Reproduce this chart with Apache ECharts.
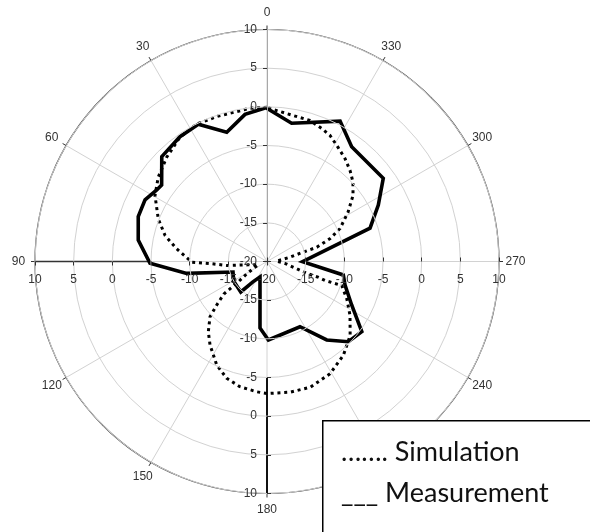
<!DOCTYPE html>
<html>
<head>
<meta charset="utf-8">
<script src="https://cdn.jsdelivr.net/npm/echarts@6/dist/echarts.min.js"></script>
<style>
  html, body { margin: 0; padding: 0; background: #fff; }
  #chart { width: 590px; height: 532px; }
</style>
</head>
<body>
<div id="chart"></div>
<script>
// Radiation pattern: relative gain (dB) against azimuth angle (degrees, counter-clockwise from top)

// Simulated pattern
const simAngles = [0, 6.3, 18.8, 27, 35, 43.9, 52.2, 59.5, 68.6, 75.7, 82, 90.5, 92, 95.7, 100, 110,
  121, 125, 127, 130.9, 134.1, 140.1, 145.7, 154.1, 161, 167.8, 175.5, 180, 190, 198.9, 209.3,
  219.1, 228.3, 237, 244.9, 252.2, 251.9, 252.9, 253.3, 256.2, 264.3, 272, 275.2, 280.6, 284.5,
  286, 290, 294.3, 301.3, 307.5, 312.7, 317.6, 322.9, 328.2, 333.4, 337.6, 343, 349.9, 357.7];
const simValues = [-0.05, -0.06, -0.17, -0.05, -0.38, -1.29, -2.2, -3.19, -4.9, -6.4, -8.2, -10.3, -12.6, -14.8, -17.5, -18.8,
  -17.0, -15.6, -13.0, -11.4, -9.74, -8.17, -6.93, -5.12, -4.02, -3.44, -3.1, -2.93, -2.84, -2.8, -3.35,
  -4.35, -5.6, -7.2, -8.6, -9.85, -12.1, -13.1, -14.5, -16.0, -17.7, -18.8, -18.6, -17.0, -15.2,
  -13.3, -11.3, -9.64, -7.74, -5.98, -4.87, -4.07, -3.29, -2.6, -1.78, -1.4, -0.94, -0.82, -0.33];

// Measured pattern
const measAngles = [0.4, 8.5, 17.3, 26.6, 34.9, 45.1, 54, 57, 63.2, 70.8, 80.5, 90.9, 98.4, 107.2, 120.6,
  139.3, 145.3, 155.7, 174, 181, 206.8, 217.3, 225.4, 233.5, 242.8, 253.2, 260, 269.7, 287.9,
  296.9, 305.6, 323.6, 332.5, 349.9];
const measValues = [-0.11, -0.76, -2.5, -0.16, -0.33, -0.79, -3.16, -3.0, -2.33, -2.37, -3.12, -4.87, -9.5, -15.4, -15.0,
  -14.8, -16.8, -17.8, -11.35, -9.85, -10.55, -7.25, -5.23, -4.75, -7.69, -9.46, -9.98, -15.4, -6.0,
  -3.86, -1.51, -1.55, 0.47, -1.84];

// Tick labels
const angleTicks = [0, 30, 60, 90, 120, 150, 180, 210, 240, 270, 300, 330];
const radialTicks = [-20, -15, -10, -5, 0, 5, 10];

// Radial scale (dB) and angular step (degrees)
const radialMin = -20;
const radialMax = 10;
const radialStep = 5;
const angleStep = 30;

// Darker stretches of the left and bottom radial axes (dB range)
const axisStretch = [-5, 10];
const axisStretchAngles = [90, 180];

const legendLines = ['……. Simulation', '___ Measurement'];

const toPairs = (vals, angs) => {
  const pts = vals.map((v, i) => [v, angs[i]]);
  pts.push(pts[0]); // close the loop
  return pts;
};

const FONT = '"Liberation Sans", Arial, sans-serif';
const LABEL_FONT = '12px "Liberation Sans", Arial, sans-serif';
const center = [267, 261.5];
const R = 232;

function hiddenAngle(idx, start) {
  return {
    polarIndex: idx, type: 'value', min: 0, max: 360, interval: angleStep,
    startAngle: start, clockwise: false,
    axisLine: { show: false }, axisTick: { show: false },
    axisLabel: { show: false }, splitLine: { show: false }
  };
}

function tickOnlyRadius(idx) {
  return {
    polarIndex: idx, type: 'value', min: radialMin, max: radialMax, interval: radialStep,
    axisLine: { show: false },
    axisTick: { show: true, length: 4, lineStyle: { color: '#333', width: 1 } },
    axisLabel: { show: false },
    splitLine: { show: false },
    z: 5
  };
}

const chart = echarts.init(document.getElementById('chart'), null, { renderer: 'canvas' });

chart.setOption({
  backgroundColor: '#ffffff',
  animation: false,
  polar: [
    { center: center, radius: R },
    { center: center, radius: R },
    { center: center, radius: R },
    { center: center, radius: R }
  ],
  angleAxis: [
    {
      polarIndex: 0, type: 'value', min: 0, max: 360, interval: angleStep,
      startAngle: 90, clockwise: false,
      axisLine: { lineStyle: { color: '#444', width: 1.2 } },
      axisTick: { length: 4, lineStyle: { color: '#333' } },
      axisLabel: { show: false },
      splitLine: { lineStyle: { color: '#d2d2d2', width: 1 } }
    },
    hiddenAngle(1, 180),
    hiddenAngle(2, 270),
    hiddenAngle(3, 0)
  ],
  radiusAxis: [
    {
      polarIndex: 0, type: 'value', min: radialMin, max: radialMax, interval: radialStep,
      axisLine: { show: true, lineStyle: { color: '#a8a8a8', width: 1 } },
      axisTick: { show: true, length: 4, lineStyle: { color: '#333', width: 1 } },
      axisLabel: { margin: 10, color: '#333', fontSize: 12, fontFamily: FONT },
      splitLine: { show: true, lineStyle: { color: '#d2d2d2', width: 1 } },
      z: 5
    },
    tickOnlyRadius(1),
    tickOnlyRadius(2),
    tickOnlyRadius(3)
  ],
  series: [
    {
      name: 'axis-left', type: 'line', coordinateSystem: 'polar', polarIndex: 0,
      data: axisStretch.map(v => [v, axisStretchAngles[0]]),
      symbol: 'none', silent: true,
      lineStyle: { color: '#333', width: 1.5 }
    },
    {
      name: 'axis-bottom', type: 'line', coordinateSystem: 'polar', polarIndex: 0,
      data: axisStretch.map(v => [v, axisStretchAngles[1]]),
      symbol: 'none', silent: true,
      lineStyle: { color: '#111', width: 2 }
    },
    {
      name: 'Simulation', type: 'line', coordinateSystem: 'polar', polarIndex: 0,
      data: toPairs(simValues, simAngles),
      symbol: 'none', smooth: false,
      lineStyle: { color: '#000', width: 3, type: [3, 3.8], cap: 'butt' }
    },
    {
      name: 'Measurement', type: 'line', coordinateSystem: 'polar', polarIndex: 0,
      data: toPairs(measValues, measAngles),
      symbol: 'none', smooth: false,
      lineStyle: { color: '#000', width: 3.6, join: 'miter' }
    }
  ]
});

// Label placement uses the polar coordinate system's own mapping
const toPx = (v, a) => chart.convertToPixel({ polarIndex: 0 }, [v, a]);
const labels = [];

function addText(x, y, text, align, vAlign) {
  labels.push({
    type: 'text', x: x, y: y, z: 50, silent: true,
    style: { text: String(text), font: LABEL_FONT, fill: '#333', align: align, verticalAlign: vAlign }
  });
}

// Angle labels, centred a little outside the outer ring
angleTicks.forEach(a => {
  const c = toPx(radialMin, a);
  const o = toPx(radialMax, a);
  const dx = o[0] - c[0], dy = o[1] - c[1];
  const len = Math.sqrt(dx * dx + dy * dy) || 1;
  const gap = 16.5;
  addText(o[0] + dx / len * gap, o[1] + dy / len * gap, a, 'center', 'middle');
});

// Radial labels along the left (90°), bottom (180°) and right (270°) axes
radialTicks.forEach(v => {
  if (v !== radialMin) {
    const l = toPx(v, 90);
    addText(l[0], l[1] + 18, v, 'center', 'middle');
    const b = toPx(v, 180);
    addText(b[0] - 10, b[1], v, 'right', 'middle');
  }
  const r = toPx(v, 270);
  addText(r[0], r[1] + 18, v, 'center', 'middle');
});

chart.setOption({
  graphic: labels.concat([
    {
      type: 'rect', left: 322, top: 420, z: 100,
      shape: { width: 280, height: 120 },
      style: { fill: '#fff', stroke: '#000', lineWidth: 1.5 }
    },
    {
      type: 'text', left: 341, top: 439, z: 101,
      style: { text: legendLines[0], font: '27px Lato, sans-serif', fill: '#111' }
    },
    {
      type: 'text', left: 341, top: 480, z: 101,
      style: { text: legendLines[1], font: '27px Lato, sans-serif', fill: '#111' }
    }
  ])
});
</script>
</body>
</html>
